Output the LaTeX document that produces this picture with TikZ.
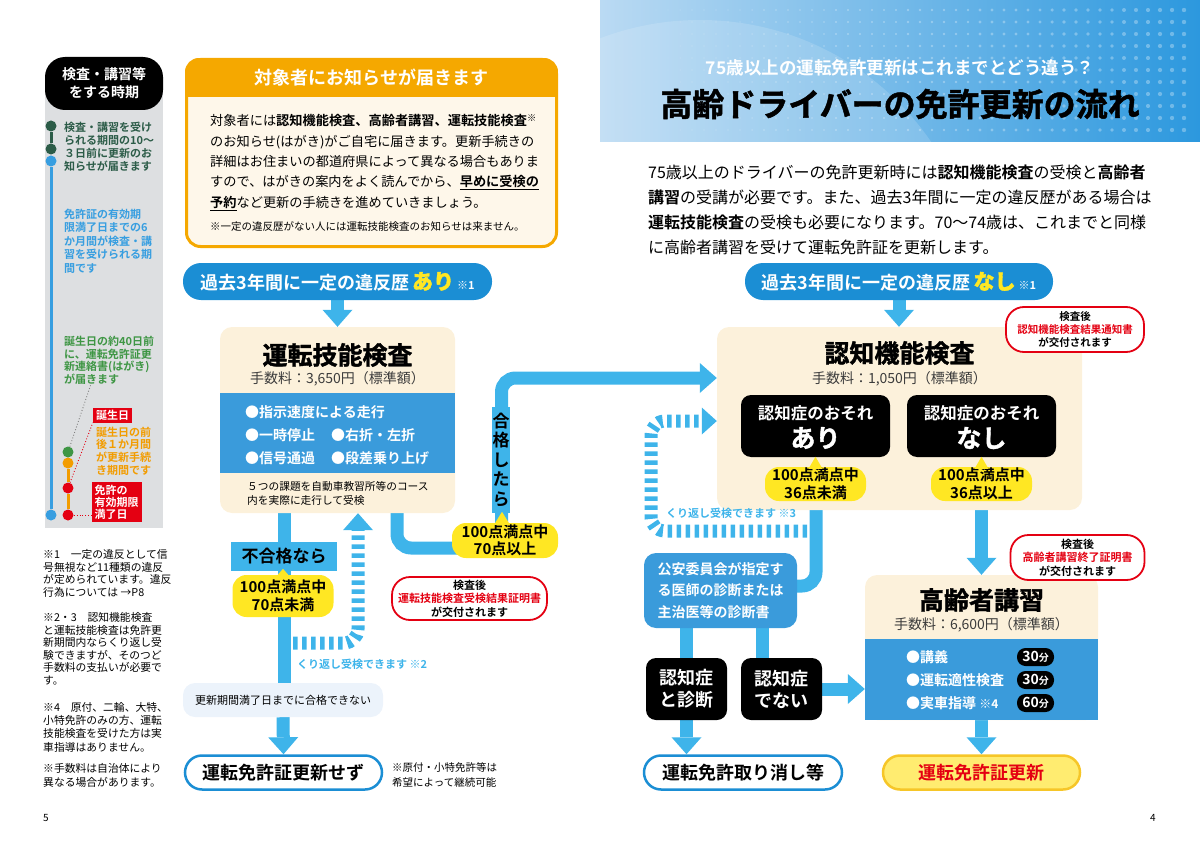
\documentclass[tikz,border=0pt]{standalone}
\usepackage{fontspec}
\setmainfont{Noto Sans CJK JP}[BoldFont={Noto Sans CJK JP Bold}]
\newfontfamily\heavyfont{Noto Sans CJK JP Bold}[FakeBold=1.5]
\usetikzlibrary{arrows.meta, backgrounds, positioning}
\newcommand{\fsz}[2]{\fontsize{#1}{#2}\selectfont}

\definecolor{pillblue}{RGB}{27,142,212}
\definecolor{arrowblue}{RGB}{62,180,234}
\definecolor{bandblue}{RGB}{58,155,219}
\definecolor{cream}{RGB}{252,241,219}
\definecolor{noticeorange}{RGB}{245,168,0}
\definecolor{noticecream}{RGB}{254,247,234}
\definecolor{yel}{RGB}{255,231,35}
\definecolor{koushinyel}{RGB}{255,236,112}
\definecolor{koushinrim}{RGB}{246,198,40}
\definecolor{alertred}{RGB}{228,0,18}
\definecolor{sbgray}{RGB}{221,223,225}
\definecolor{sbblue}{RGB}{55,158,224}
\definecolor{dkgreen}{RGB}{44,92,72}
\definecolor{ltgreen}{RGB}{62,150,68}
\definecolor{sborange}{RGB}{242,156,0}
\definecolor{feegray}{RGB}{60,60,60}
\definecolor{mistblue}{RGB}{236,243,251}
\definecolor{hdrlight}{RGB}{186,218,243}
\definecolor{hdrblue}{RGB}{44,152,222}

\tikzset{
  % boxes
  pill/.style={rectangle, rounded corners=18pt, fill=pillblue, text=white,
    font=\bfseries\fsz{18}{20}, minimum width=309pt, minimum height=37pt, inner sep=0pt},
  creambox/.style={rectangle, rounded corners=12pt, fill=cream, inner sep=0pt},
  blackbox/.style={rectangle, rounded corners=10pt, fill=black, text=white,
    align=center, inner sep=0pt},
  yelcall/.style={rectangle, rounded corners=14pt, fill=yel, align=center,
    font=\bfseries\fsz{15}{17.5}, inner sep=0pt},
  redcall/.style={rectangle, rounded corners=18pt, draw=alertred, line width=1.8pt,
    fill=white, align=center, font=\bfseries\fsz{11}{13.5}, inner sep=0pt},
  endpill/.style={rectangle, rounded corners=17pt, draw=pillblue, line width=2.5pt,
    fill=white, font=\bfseries\fsz{18}{20}, minimum height=34pt, inner sep=0pt},
  timepill/.style={rectangle, rounded corners=8.5pt, fill=black, text=white,
    font=\bfseries\fsz{14}{16}, minimum width=37pt, minimum height=18pt, inner sep=0pt},
  boxtitle/.style={font=\heavyfont\fsz{25}{28}},
  fee/.style={font=\fsz{14}{16}, text=feegray},
  bulletitem/.style={anchor=west, text=white, font=\bfseries\fsz{14}{16}, inner sep=0pt},
  txt/.style={anchor=west, align=left, inner sep=0pt},
  % connectors
  shaft/.style={draw=arrowblue, line width=13pt},
  flow/.style={shaft, -{Triangle[width=30pt, length=17pt, line width=0pt]}},
  stripes/.style={flow, dash pattern=on 4.5pt off 4.5pt},
  % sidebar
  tdot/.style={circle, inner sep=0pt, minimum size=11pt},
  leader/.style={dotted, line width=0.9pt},
}

\begin{document}
\begin{tikzpicture}[x=1pt, y=-1pt]
\useasboundingbox (0,0) rectangle (1200,848);

% Header
\shade[left color=hdrlight, right color=hdrblue] (600,0) rectangle (1200,142);
\begin{scope}
  \clip (600,0) rectangle (1200,142);
  \fill[white, opacity=0.15] (700,300) circle (280pt);
  \foreach \i in {0,...,47} {
    \foreach \j in {0,...,10} {
      \pgfmathsetmacro{\dotr}{0.3+1.9*\i/47}
      \fill[white, opacity=0.3] (620+12*\i, 10+12*\j) circle (\dotr pt);
    }
  }
\end{scope}
\node[text=white, font=\bfseries\fsz{17.5}{20}] (hdrsub) at (900,68) {75歳以上の運転免許更新はこれまでとどう違う？};
\node[font=\heavyfont\fsz{32}{36}] (hdrtitle) at (900,104) {高齢ドライバーの免許更新の流れ};
\node[txt, font=\fsz{16}{25}] (intro) at (648,209.5) {75歳以上のドライバーの免許更新時には\textbf{認知機能検査}の受検と\textbf{高齢者}\\\textbf{講習}の受講が必要です。また、過去3年間に一定の違反歴がある場合は\\\textbf{運転技能検査}の受検も必要になります。70～74歳は、これまでと同様\\に高齢者講習を受けて運転免許証を更新します。};

% Sidebar
\fill[sbgray] (45,88) rectangle (163,528);
\node[rectangle, rounded corners=20pt, fill=black, text=white, font=\bfseries\fsz{14}{18},
  align=center, minimum width=118pt, minimum height=53pt] (sbhead) at (104,83.5) {検査・講習等\\をする時期};
\node[tdot, fill=dkgreen] (d1) at (51,126) {};
\node[tdot, fill=dkgreen] (d2) at (51,149) {};
\node[tdot, fill=sbblue] (d3) at (51,161) {};
\node[tdot, fill=sbblue] (d4) at (51,515) {};
\node[tdot, fill=ltgreen] (d5) at (68,452) {};
\node[tdot, fill=sborange] (d6) at (68,463) {};
\node[tdot, fill=alertred] (d7) at (68,488) {};
\node[tdot, fill=alertred] (d8) at (68,515) {};
\draw[dkgreen, line width=3pt] (d1) -- (d2);
\draw[sbblue, line width=3pt] (d3) -- (d4);
\draw[sborange, line width=3pt] (d6) -- (d7);
\draw[sborange, line width=3pt] (d7) -- (d8);
\node[txt, text=dkgreen, font=\bfseries\fsz{11}{13}] (sbt1) at (64,146.5) {検査・講習を受け\\られる期間の10～\\３日前に更新のお\\知らせが届きます};
\node[txt, text=sbblue, font=\bfseries\fsz{11}{13.5}] (sbt2) at (64,241) {免許証の有効期\\限満了日までの6\\か月間が検査・講\\習を受けられる期\\間です};
\node[txt, text=ltgreen, font=\bfseries\fsz{11}{12.5}] (sbt3) at (64,360.5) {誕生日の約40日前\\に、運転免許証更\\新連絡書(はがき)\\が届きます};
\node[fill=alertred, text=white, font=\bfseries\fsz{11}{13}, minimum width=39pt,
  minimum height=15pt, inner sep=0pt] (bday) at (112.5,415) {誕生日};
\node[txt, text=sborange, font=\bfseries\fsz{11}{12.7}] (sbt4) at (96,451) {誕生日の前\\後１か月間\\が更新手続\\き期間です};
\node[fill=alertred, text=white, font=\bfseries\fsz{11}{12}, align=left, inner sep=3pt,
  minimum height=40pt] (mankiri) at (116.5,502) {免許の\\有効期限\\満了日};
\coordinate (lead1) at (91,384);
\draw[leader, gray] (d5) -- (lead1);
\draw[leader, alertred] (d7) -- (bday.south west);
\draw[leader, alertred] (d8) -- (mankiri.west |- d8);

% Footnotes
\node[txt, font=\fsz{10.8}{12.5}] (fn1) at (43,573.5) {※1　一定の違反として信\\号無視など11種類の違反\\が定められています。違反\\行為については →P8};
\node[txt, font=\fsz{10.8}{12.5}] (fn2) at (43,649) {※2・3　認知機能検査\\と運転技能検査は免許更\\新期間内ならくり返し受\\験できますが、そのつど\\手数料の支払いが必要で\\す。};
\node[txt, font=\fsz{10.8}{13.3}] (fn3) at (43,727) {※4　原付、二輪、大特、\\小特免許のみの方、運転\\技能検査を受けた方は実\\車指導はありません。};
\node[txt, font=\fsz{10.8}{14}] (fn4) at (43,775) {※手数料は自治体により\\異なる場合があります。};
\node[font=\fsz{10}{12}] (pg5) at (46,818) {5};
\node[font=\fsz{10}{12}] (pg4) at (1153,818) {4};

% Notice
\node[rectangle, rounded corners=14pt, draw=noticeorange, line width=3pt, fill=noticecream,
  minimum width=370pt, minimum height=187pt] (notice) at (371.5,153) {};
\begin{scope}
  \clip[rounded corners=14pt] (185,58) rectangle (558,248);
  \fill[noticeorange] (185,58) rectangle (558,97);
\end{scope}
\node[text=white, font=\bfseries\fsz{18}{20}] (noticehead) at (371.5,78) {対象者にお知らせが届きます};
\node[txt, font=\fsz{13.2}{20.3}] (noticebody) at (210,162.5) {対象者には\textbf{認知機能検査、高齢者講習、運転技能検査}\textsuperscript{※}\\のお知らせ(はがき)がご自宅に届きます。更新手続きの\\詳細はお住まいの都道府県によって異なる場合もありま\\すので、はがきの案内をよく読んでから、\underline{\textbf{早めに受検の}}\\\underline{\textbf{予約}}など更新の手続きを進めていきましょう。};
\node[txt, font=\fsz{10.5}{12}] (noticenote) at (210,227) {※一定の違反歴がない人には運転技能検査のお知らせは来ません。};

% Left flow
\node[pill] (ari) at (337.5,281.5) {過去3年間に一定の違反歴\,{\color{yel}\heavyfont\fsz{21}{22}あり}\,{\fsz{11}{12}※1}};
\node[creambox, minimum width=235pt, minimum height=186pt] (ginobox) at (337.5,420) {};
\fill[bandblue] (220,393) rectangle (455,473);
\node[boxtitle] (ginotitle) at (337.5,355) {運転技能検査};
\node[fee] (ginofee) at (337.5,379) {手数料：3,650円（標準額）};
\node[bulletitem] (ginob1) at (245,412) {●指示速度による走行};
\node[bulletitem] (ginob2) at (245,435) {●一時停止};
\node[bulletitem] (ginob3) at (331,435) {●右折・左折};
\node[bulletitem] (ginob4) at (245,458) {●信号通過};
\node[bulletitem] (ginob5) at (331,458) {●段差乗り上げ};
\node[txt, font=\fsz{10.7}{14}] (ginonote) at (247,493) {５つの課題を自動車教習所等のコース\\内を実際に走行して受検};
\node[fill=arrowblue, font=\bfseries\fsz{17}{19}, minimum width=106pt, minimum height=29pt,
  inner sep=0pt] (fuka) at (284,556.5) {不合格なら};
\node[yelcall, minimum width=101pt, minimum height=42pt] (ng70) at (283,596) {100点満点中\\70点未満};
\fill[yel, shift={(ng70.north)}] (-7,2) -- (0,-6) -- (7,2) -- cycle;
\node[anchor=west, text=arrowblue, font=\bfseries\fsz{11}{13}, inner sep=0pt] (retry2) at (297,664) {くり返し受検できます ※2};
\node[rectangle, rounded corners=12pt, fill=mistblue, font=\fsz{11}{13}, minimum width=200pt,
  minimum height=34pt] (mancho) at (283,700) {更新期間満了日までに合格できない};
\node[endpill, minimum width=197pt] (sezu) at (283.5,772.5) {運転免許証更新せず};
\node[txt, font=\fsz{10.5}{15}] (sezunote) at (392,774.5) {※原付・小特免許等は\\希望によって継続可能};
\node[fill=arrowblue, font=\bfseries\fsz{17}{19.5}, align=center, minimum width=18pt,
  minimum height=106pt, inner sep=0pt] (goukaku) at (501,460) {合\\格\\し\\た\\ら};
\node[yelcall, minimum width=106pt, minimum height=35pt] (ok70) at (505,540.5) {100点満点中\\70点以上};
\fill[yel, shift={(ok70.north)}] (-11,2) -- (-3,-11) -- (5,2) -- cycle;
\node[redcall, minimum width=155pt, minimum height=43pt] (ginocall) at (469.5,598.5) {検査後\\{\color{alertred}運転技能検査受検結果証明書}\\が交付されます};

% Right flow
\node[pill, minimum width=308pt] (nashi) at (899,281.5) {過去3年間に一定の違反歴\,{\color{yel}\heavyfont\fsz{21}{22}なし}\,{\fsz{11}{12}※1}};
\node[creambox, minimum width=365pt, minimum height=183pt] (ninchibox) at (899.5,418.5) {};
\node[boxtitle] (ninchititle) at (899.5,353) {認知機能検査};
\node[fee] (ninchifee) at (899.5,379) {手数料：1,050円（標準額）};
\node[blackbox, minimum width=149pt, minimum height=62pt] (osore1) at (815.5,426) {};
\node[blackbox, minimum width=149pt, minimum height=62pt] (osore2) at (981.5,426) {};
\node[text=white, font=\bfseries\fsz{16.5}{18}] (osore1a) at (815.5,413) {認知症のおそれ};
\node[text=white, font=\heavyfont\fsz{25}{27}] (osore1b) at (815.5,438) {あり};
\node[text=white, font=\bfseries\fsz{16.5}{18}] (osore2a) at (981.5,413) {認知症のおそれ};
\node[text=white, font=\heavyfont\fsz{25}{27}] (osore2b) at (981.5,438) {なし};
\node[yelcall, minimum width=101pt, minimum height=34pt] (ten1) at (815.5,484) {100点満点中\\36点未満};
\node[yelcall, minimum width=101pt, minimum height=34pt] (ten2) at (981.5,484) {100点満点中\\36点以上};
\fill[yel, shift={(ten1.north)}] (-7,2) -- (0,-10) -- (7,2) -- cycle;
\fill[yel, shift={(ten2.north)}] (-7,2) -- (0,-10) -- (7,2) -- cycle;
\node[redcall, font=\bfseries\fsz{10.5}{13}, minimum width=138pt, minimum height=45pt] (ninchicall) at (1075,329.5) {検査後\\{\color{alertred}認知機能検査結果通知書}\\が交付されます};
\node[anchor=west, text=arrowblue, font=\bfseries\fsz{11}{13}, inner sep=0pt] (retry3) at (666,513) {くり返し受検できます ※3};
\node[rectangle, rounded corners=12pt, fill=bandblue, text=white, font=\bfseries\fsz{14}{21.5},
  align=left, minimum width=153pt, minimum height=75pt, inner sep=0pt] (kouan) at (720.5,590.5) {公安委員会が指定す\\る医師の診断または\\主治医等の診断書};
\node[blackbox, font=\bfseries\fsz{18}{22}, minimum width=81pt, minimum height=62pt] (shindan) at (686.5,689) {認知症\\と診断};
\node[blackbox, font=\bfseries\fsz{18}{22}, minimum width=81pt, minimum height=62pt] (denai) at (781.5,689) {認知症\\でない};
\node[endpill, minimum width=198pt] (torikeshi) at (743,772.5) {運転免許取り消し等};
\node[creambox, minimum width=233pt, minimum height=145pt] (koureibox) at (981.5,647.5) {};
\fill[bandblue] (865,639) rectangle (1098,720);
\node[boxtitle] (koureititle) at (981.5,600) {高齢者講習};
\node[fee] (koureifee) at (981.5,625) {手数料：6,600円（標準額）};
\node[bulletitem] (koub1) at (906,657) {●講義};
\node[bulletitem] (koub2) at (906,680) {●運転適性検査};
\node[bulletitem] (koub3) at (906,703) {●実車指導 {\fsz{12}{14}※4}};
\node[timepill] (tp1) at (1035.5,657) {30{\fsz{10}{12}分}};
\node[timepill] (tp2) at (1035.5,680) {30{\fsz{10}{12}分}};
\node[timepill] (tp3) at (1035.5,703) {60{\fsz{10}{12}分}};
\node[redcall, minimum width=134pt, minimum height=45pt] (koureicall) at (1077.5,557.5) {検査後\\{\color{alertred}高齢者講習終了証明書}\\が交付されます};
\node[rectangle, rounded corners=17pt, fill=koushinyel, draw=koushinrim, line width=2.5pt,
  text=alertred, font=\bfseries\fsz{18}{20}, minimum width=197pt, minimum height=34pt,
  inner sep=0pt] (koushin) at (981.5,772.5) {運転免許証更新};

% Connectors
\begin{scope}[on background layer]
  \draw[flow] (ari.south) -- (ari.south |- ginobox.north);
  \draw[shaft] (ginobox.south -| fuka) -- (mancho.north -| fuka);
  \coordinate (retbend) at (358,643);
  \draw[stripes, rounded corners=14pt] (fuka |- retbend) -- (retbend) -- (retbend |- ginobox.south);
  \coordinate (passbend) at (397,548);
  \draw[shaft, rounded corners=14pt] (passbend |- ginobox.south) -- (passbend) -- (passbend -| ok70.center);
  \coordinate (upbend) at (501.5,378);
  \draw[flow, rounded corners=14pt] (upbend |- ok70.north) -- (upbend) -- (upbend -| ninchibox.west);
  \draw[flow] (mancho.south) -- (sezu.north);
  \draw[flow] (nashi.south) -- (nashi.south |- ninchibox.north);
  \coordinate (kbend) at (816,586);
  \draw[shaft, rounded corners=14pt] (kbend |- ninchibox.south) -- (kbend) -- (kbend -| kouan.east);
  \coordinate (rbot) at (651,531);
  \coordinate (rtop) at (651,421);
  \draw[stripes, -{Triangle[width=27pt, length=15pt, line width=0pt]}, rounded corners=14pt]
    (kbend |- rbot) -- (rbot) -- (rtop) -- (rtop -| ninchibox.west);
  \coordinate (denaix) at (762,689);
  \draw[shaft] (kouan.south -| shindan) -- (shindan.north);
  \draw[shaft] (kouan.south -| denaix) -- (denai.north -| denaix);
  \draw[flow] (shindan.south) -- (shindan.south |- torikeshi.north);
  \draw[flow] (denai.east) -- (denai.east -| koureibox.west);
  \draw[flow] (ninchibox.south -| koureibox) -- (koureibox.north);
  \draw[flow] (koureibox.south) -- (koushin.north);
\end{scope}
\end{tikzpicture}
\end{document}
